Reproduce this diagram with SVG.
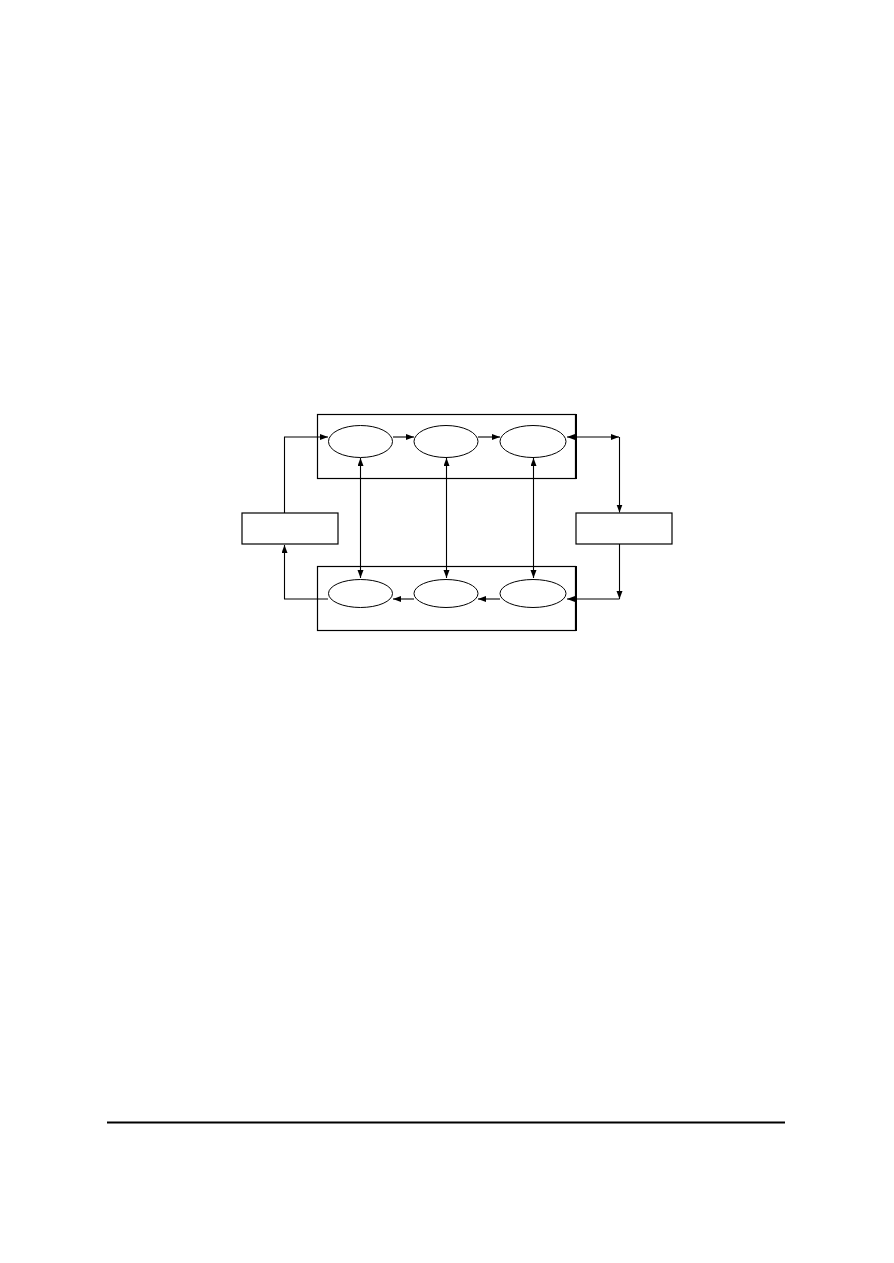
<svg xmlns="http://www.w3.org/2000/svg" width="894" height="1263" viewBox="0 0 894 1263">
<style>
.box{fill:#fff;stroke:#000;stroke-width:1.2}
.ell{fill:#fff;stroke:#000;stroke-width:1}
.c{fill:none;stroke:#000;stroke-width:1.1}
</style>
<defs>
<marker id="ah" markerUnits="userSpaceOnUse" markerWidth="9" markerHeight="7" refX="8" refY="3" orient="auto-start-reverse" viewBox="0 0 9 7">
<path d="M0,0 L8,3 L0,6 z" fill="#000"/>
</marker>
</defs>
<rect width="894" height="1263" fill="#fff"/>
<g id="top-group">
<rect class="box" x="317.5" y="414.5" width="258" height="64"/>
<line x1="576.5" y1="414" x2="576.5" y2="479" stroke="#000" stroke-width="1"/>
</g>
<g id="bottom-group">
<rect class="box" x="317.5" y="566.5" width="258" height="64"/>
<line x1="576.5" y1="566" x2="576.5" y2="631" stroke="#000" stroke-width="1"/>
</g>
<g id="left-box"><rect class="box" x="242" y="513" width="96" height="31"/></g>
<g id="right-box"><rect class="box" x="576" y="513" width="96" height="31"/></g>
<g id="t1"><ellipse class="ell" cx="360.5" cy="441.5" rx="32" ry="16"/></g>
<g id="t2"><ellipse class="ell" cx="446" cy="441.5" rx="32" ry="16"/></g>
<g id="t3"><ellipse class="ell" cx="533" cy="441.5" rx="33" ry="16"/></g>
<g id="b1"><ellipse class="ell" cx="360.5" cy="593.5" rx="32" ry="14"/></g>
<g id="b2"><ellipse class="ell" cx="446" cy="593.5" rx="32" ry="14"/></g>
<g id="b3"><ellipse class="ell" cx="533" cy="593.5" rx="33" ry="14"/></g>
<g id="connectors">
<polyline class="c" points="284.5,513 284.5,437 328,437" marker-end="url(#ah)"/>
<line class="c" x1="393" y1="437" x2="414" y2="437" marker-end="url(#ah)"/>
<line class="c" x1="478" y1="437" x2="500" y2="437" marker-end="url(#ah)"/>
<line class="c" x1="567" y1="437" x2="619" y2="437" marker-start="url(#ah)" marker-end="url(#ah)"/>
<line class="c" x1="619.5" y1="437" x2="619.5" y2="512.5" marker-end="url(#ah)"/>
<line class="c" x1="619.5" y1="544" x2="619.5" y2="599" marker-end="url(#ah)"/>
<line class="c" x1="619.5" y1="599" x2="567" y2="599" marker-end="url(#ah)"/>
<line class="c" x1="500" y1="599" x2="478" y2="599" marker-end="url(#ah)"/>
<line class="c" x1="414" y1="599" x2="393" y2="599" marker-end="url(#ah)"/>
<polyline class="c" points="328,599 284.5,599 284.5,545" marker-end="url(#ah)"/>
<line class="c" x1="360.5" y1="458" x2="360.5" y2="578" marker-start="url(#ah)" marker-end="url(#ah)"/>
<line class="c" x1="446.5" y1="458" x2="446.5" y2="578" marker-start="url(#ah)" marker-end="url(#ah)"/>
<line class="c" x1="533.5" y1="458" x2="533.5" y2="578" marker-start="url(#ah)" marker-end="url(#ah)"/>
</g>
<line x1="107" y1="1122.5" x2="785" y2="1122.5" stroke="#000" stroke-width="2"/>
</svg>
